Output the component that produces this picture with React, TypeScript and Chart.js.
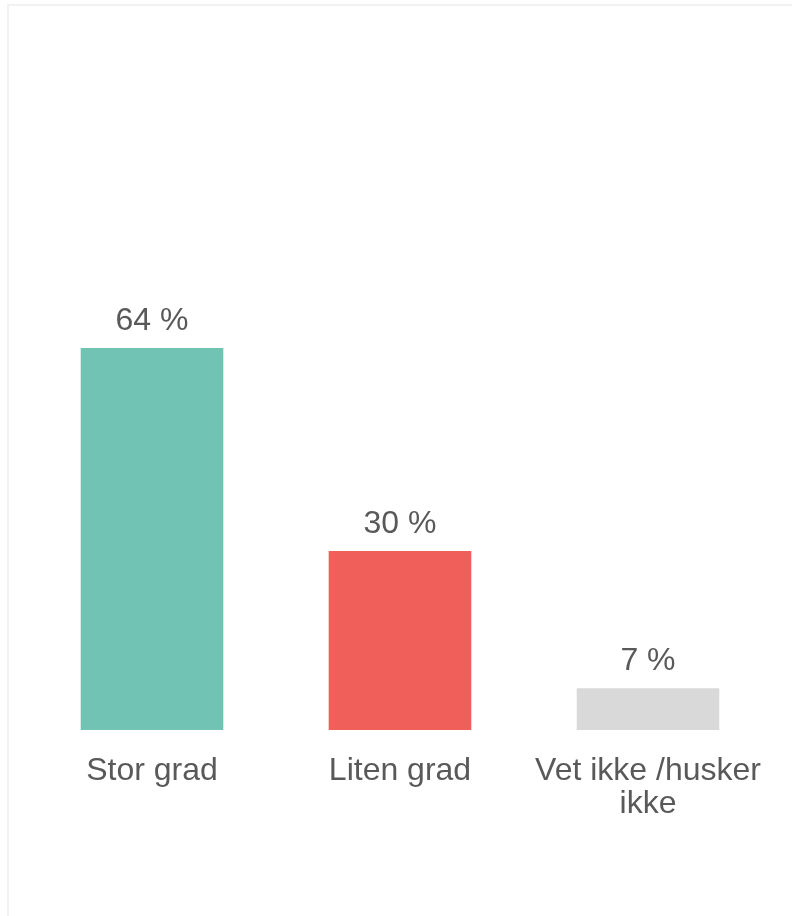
import React, { useEffect, useRef } from "react";
import { Chart, registerables } from "chart.js";

Chart.register(...registerables);

const categories: (string | string[])[] = ["Stor grad", "Liten grad", ["Vet ikke /husker", "ikke"]];
const values: number[] = [64, 30, 7];
const barColors: string[] = ["#71C4B3", "#F15F5A", "#D9D9D9"];

const FONT = "'Liberation Sans', Arial, sans-serif";
const TEXT = "#595959";

export default function App() {
  const ref = useRef<HTMLCanvasElement | null>(null);
  useEffect(() => {
    if (!ref.current) return;
    const framePlugin = {
      id: "frame",
      beforeDraw(chart: any) {
        const ctx = chart.ctx;
        ctx.save();
        ctx.fillStyle = "#ffffff";
        ctx.fillRect(0, 0, chart.width, chart.height);
        ctx.fillStyle = "#f2f2f2";
        ctx.fillRect(7, 4, 2, chart.height);
        ctx.fillRect(7, 4, chart.width, 2);
        ctx.restore();
      },
    };
    const labelPlugin = {
      id: "valueLabels",
      afterDatasetsDraw(chart: any) {
        const ctx = chart.ctx;
        const meta = chart.getDatasetMeta(0);
        ctx.save();
        ctx.font = `32px ${FONT}`;
        ctx.fillStyle = TEXT;
        ctx.textAlign = "center";
        ctx.textBaseline = "alphabetic";
        meta.data.forEach((bar: any, i: number) => {
          ctx.fillText(`${values[i]} %`, bar.x, bar.y - 18);
        });
        ctx.restore();
      },
    };
    const chart = new Chart(ref.current, {
      type: "bar",
      data: {
        labels: categories,
        datasets: [
          {
            data: values,
            backgroundColor: barColors,
            borderWidth: 0,
            categoryPercentage: 1,
            barPercentage: 0.575,
          },
        ],
      },
      options: {
        animation: false,
        responsive: false,
        devicePixelRatio: 1,
        layout: { padding: { top: 133, bottom: 0, left: 28, right: 20 } },
        plugins: { legend: { display: false }, tooltip: { enabled: false }, title: { display: false } },
        scales: {
          x: {
            grid: { display: false, drawTicks: false },
            border: { display: false },
            ticks: {
              color: TEXT,
              font: { family: FONT, size: 32, lineHeight: 1.03 },
              padding: 25,
              maxRotation: 0,
              autoSkip: false,
            },
            afterFit: (scale: any) => {
              scale.height = 186;
            },
          },
          y: {
            display: false,
            min: 0,
            max: 100,
          },
        },
      },
      plugins: [framePlugin, labelPlugin],
    });
    return () => chart.destroy();
  }, []);
  return (
    <div style={{ position: "absolute", left: 0, top: 0, width: 792, height: 916 }}>
      <canvas ref={ref} width={792} height={916} style={{ width: 792, height: 916, display: "block" }} />
    </div>
  );
}
